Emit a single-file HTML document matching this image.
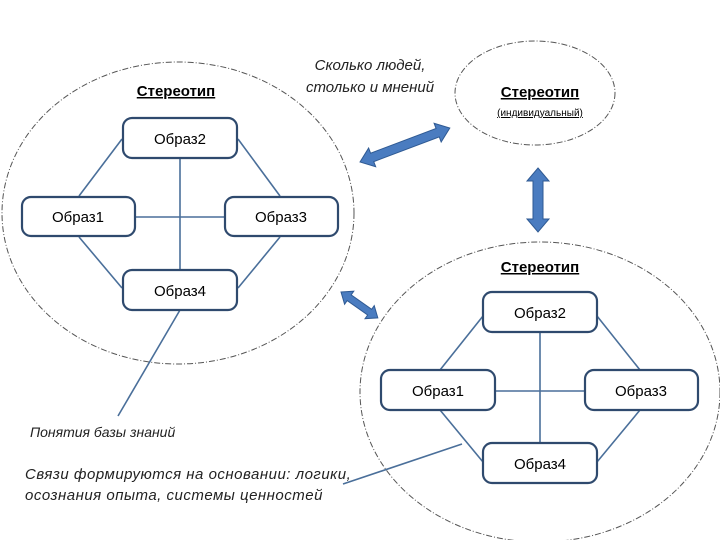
<!DOCTYPE html>
<html><head><meta charset="utf-8"><style>
html,body{margin:0;padding:0;background:#fff}
svg{display:block}
text{font-family:"Liberation Sans","DejaVu Sans",sans-serif;fill:#000}
.b{fill:#fff;stroke:#2f4a6e;stroke-width:2.2}
.l{stroke:#4a6f9a;stroke-width:1.6;fill:none}
.e{fill:none;stroke:#555;stroke-width:1;stroke-dasharray:6 2 1 2}
.t{font-size:15px}
.i{font-style:italic;font-size:14px;fill:#222}
.a{fill:#4a7cc0;stroke:#2f5a93;stroke-width:1}
</style></head><body>
<svg width="720" height="540" viewBox="0 0 720 540">
<ellipse class="e" cx="178" cy="213" rx="176" ry="151"/>
<ellipse class="e" cx="540" cy="392" rx="180" ry="150"/>
<ellipse class="e" cx="535" cy="93" rx="80" ry="52"/>

<line class="l" x1="79" y1="196" x2="122" y2="139"/>
<line class="l" x1="280" y1="196" x2="238" y2="139"/>
<line class="l" x1="79" y1="237" x2="122" y2="288"/>
<line class="l" x1="280" y1="237" x2="238" y2="288"/>
<line class="l" x1="180" y1="158" x2="180" y2="270"/>
<line class="l" x1="136" y1="217" x2="224" y2="217"/>
<line class="l" x1="180" y1="310" x2="118" y2="416"/>

<rect class="b" x="123" y="118" width="114" height="40" rx="9"/>
<rect class="b" x="22" y="197" width="113" height="39" rx="9"/>
<rect class="b" x="225" y="197" width="113" height="39" rx="9"/>
<rect class="b" x="123" y="270" width="114" height="40" rx="9"/>
<text class="t" x="180" y="144" text-anchor="middle">Образ2</text>
<text class="t" x="78" y="222" text-anchor="middle">Образ1</text>
<text class="t" x="281" y="222" text-anchor="middle">Образ3</text>
<text class="t" x="180" y="296" text-anchor="middle">Образ4</text>
<text x="176" y="96" text-anchor="middle" font-size="15" font-weight="bold" text-decoration="underline">Стереотип</text>

<line class="l" x1="440" y1="370" x2="483" y2="316"/>
<line class="l" x1="640" y1="370" x2="597" y2="316"/>
<line class="l" x1="440" y1="410" x2="483" y2="462"/>
<line class="l" x1="640" y1="410" x2="597" y2="462"/>
<line class="l" x1="540" y1="332" x2="540" y2="443"/>
<line class="l" x1="495" y1="391" x2="585" y2="391"/>
<line class="l" x1="343" y1="484" x2="462" y2="444"/>

<rect class="b" x="483" y="292" width="114" height="40" rx="9"/>
<rect class="b" x="381" y="370" width="114" height="40" rx="9"/>
<rect class="b" x="585" y="370" width="113" height="40" rx="9"/>
<rect class="b" x="483" y="443" width="114" height="40" rx="9"/>
<text class="t" x="540" y="318" text-anchor="middle">Образ2</text>
<text class="t" x="438" y="396" text-anchor="middle">Образ1</text>
<text class="t" x="641" y="396" text-anchor="middle">Образ3</text>
<text class="t" x="540" y="469" text-anchor="middle">Образ4</text>
<text x="540" y="272" text-anchor="middle" font-size="15" font-weight="bold" text-decoration="underline">Стереотип</text>

<text x="540" y="97" text-anchor="middle" font-size="15" font-weight="bold" text-decoration="underline">Стереотип</text>
<text x="540" y="116" text-anchor="middle" font-size="10" text-decoration="underline">(индивидуальный)</text>

<text class="i" x="370" y="70" text-anchor="middle" font-size="15" style="font-size:15px">Сколько людей,</text>
<text class="i" x="370" y="92" text-anchor="middle" style="font-size:15px">столько и мнений</text>

<g transform="translate(360,162) rotate(-20.7)">
<polygon class="a" points="0,0 13,-10 13,-4.5 83,-4.5 83,-10 96,0 83,10 83,4.5 13,4.5 13,10"/>
</g>
<g transform="translate(538,168) rotate(90)">
<polygon class="a" points="0,0 13,-11 13,-5 51,-5 51,-11 64,0 51,11 51,5 13,5 13,11"/>
</g>
<g transform="translate(341,292) rotate(35.1)">
<polygon class="a" points="0,0 10,-8 10,-3.5 35,-3.5 35,-8 45,0 35,8 35,3.5 10,3.5 10,8"/>
</g>

<text class="i" x="30" y="437">Понятия базы знаний</text>
<text class="i" x="25" y="479" style="font-size:15px;letter-spacing:0.5px">Связи формируются на основании: логики,</text>
<text class="i" x="25" y="500" style="font-size:15px;letter-spacing:0.5px">осознания опыта, системы ценностей</text>
</svg>
</body></html>
